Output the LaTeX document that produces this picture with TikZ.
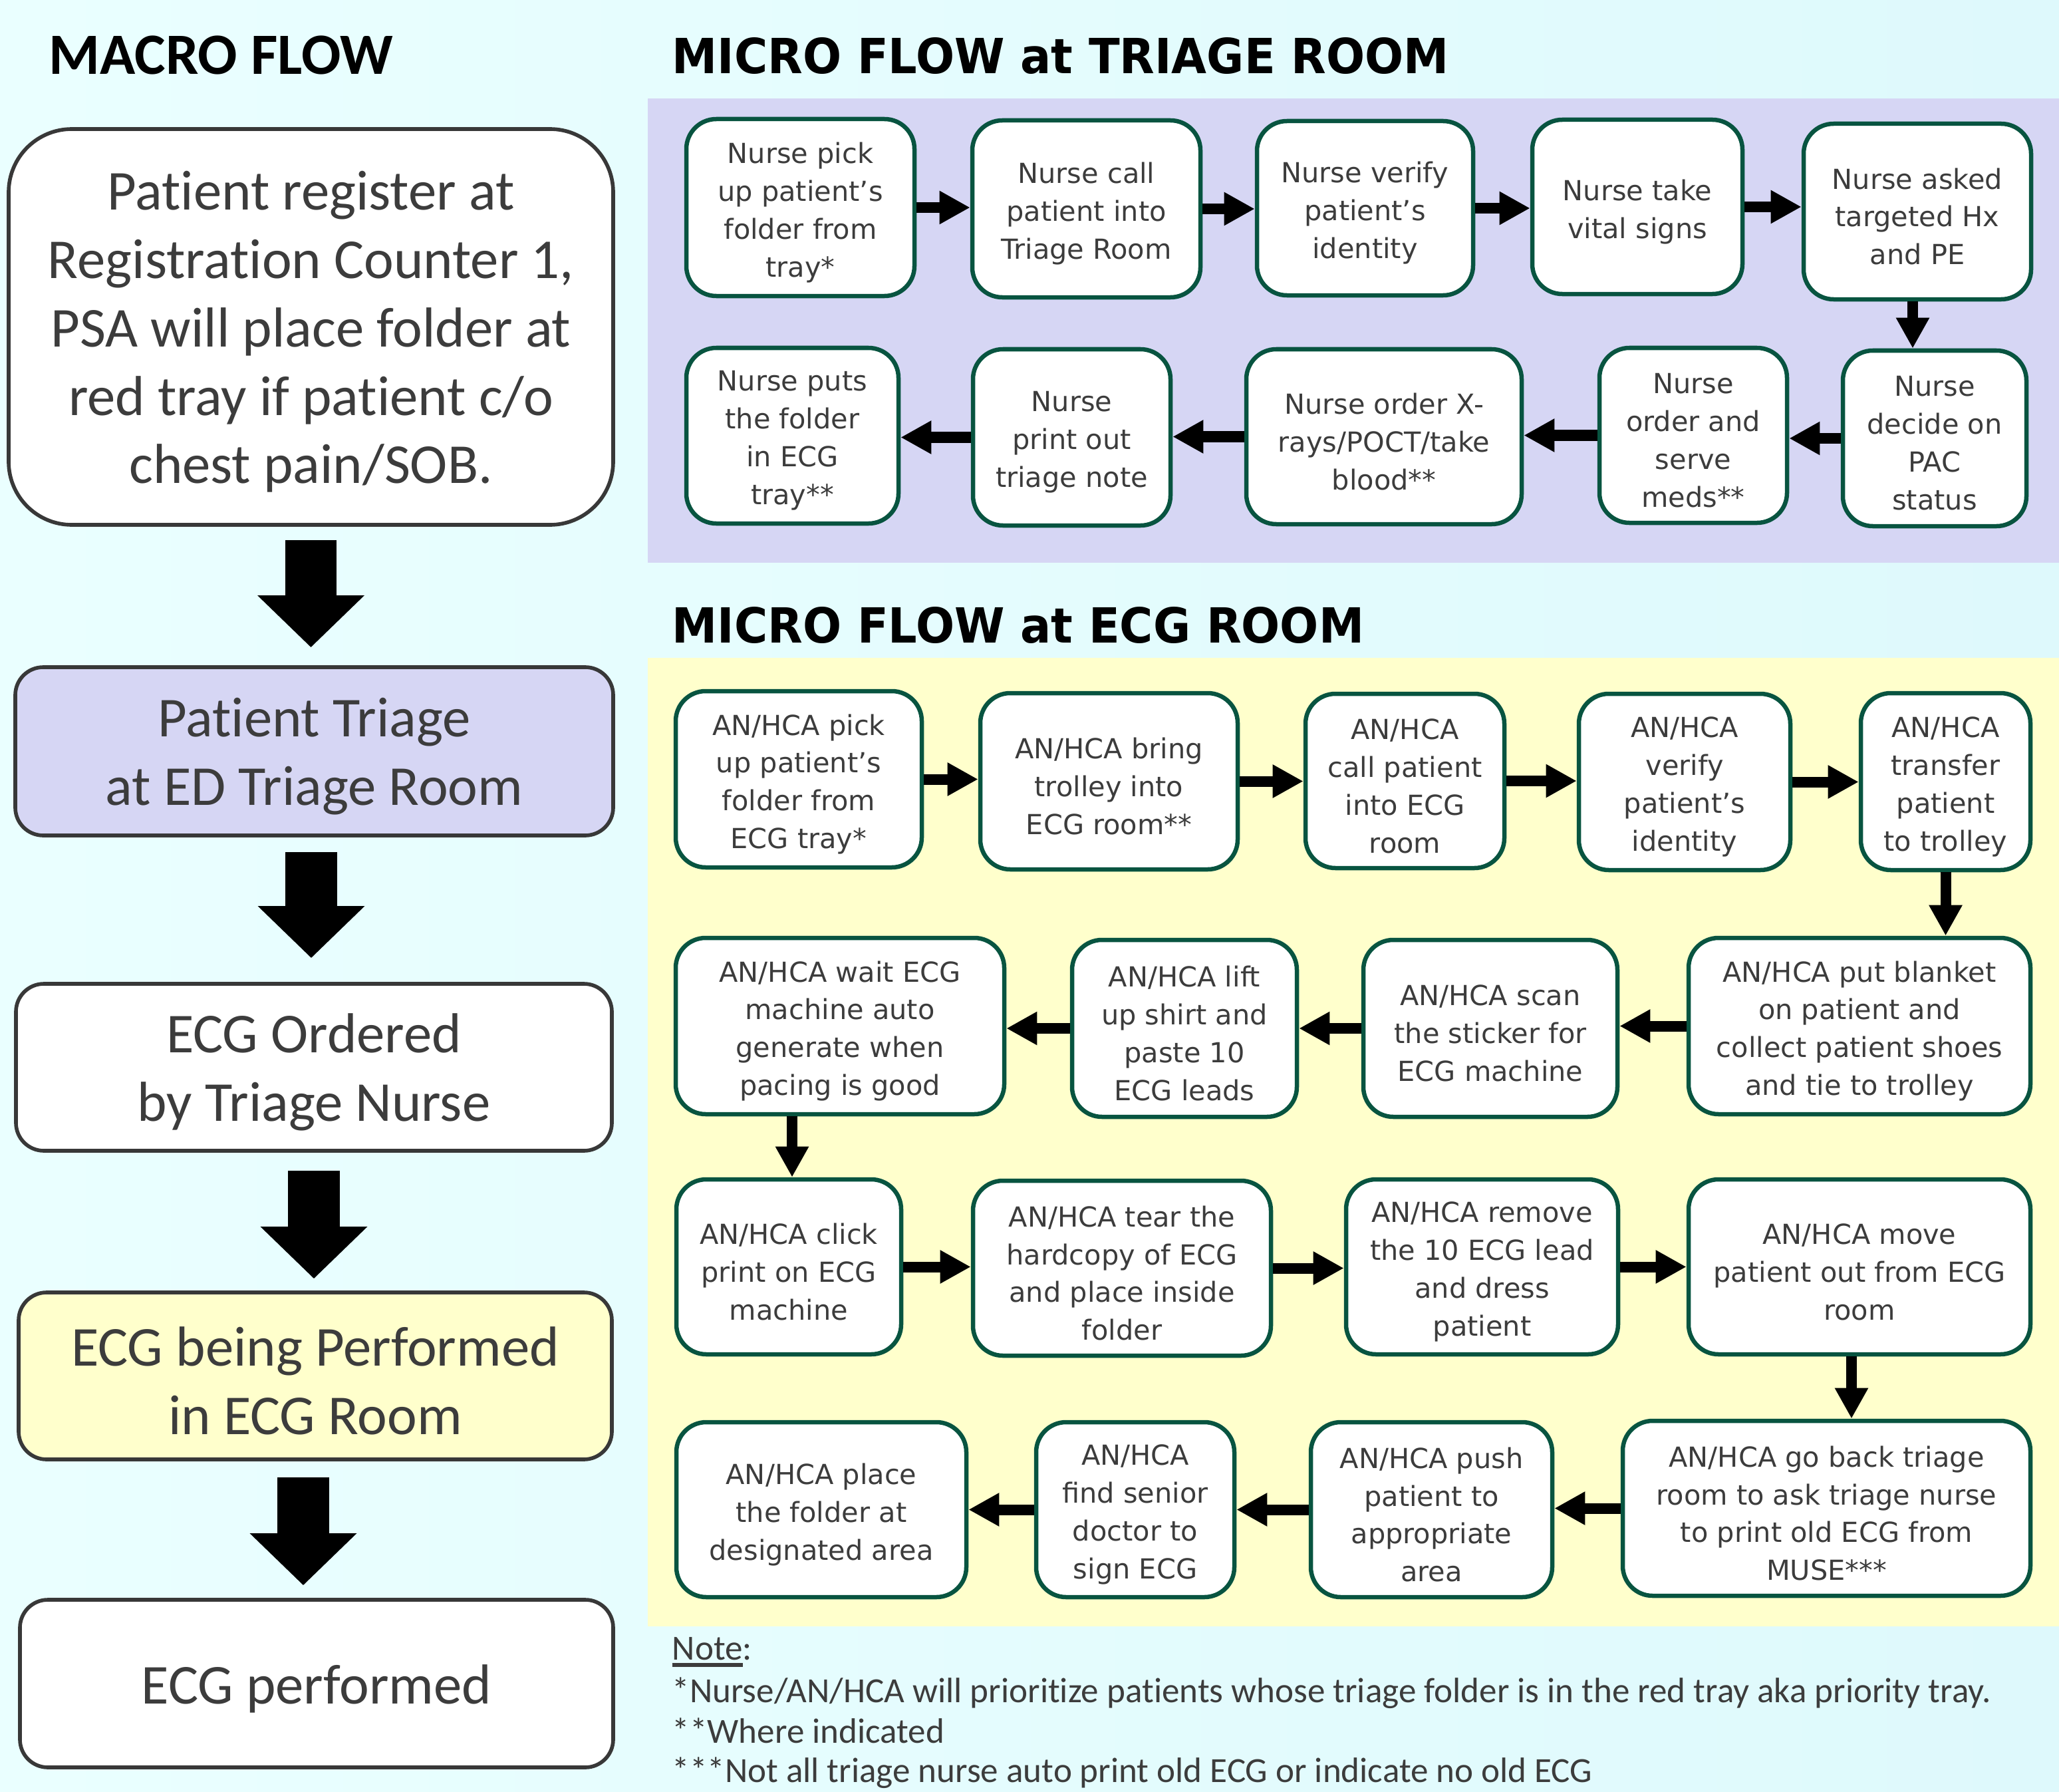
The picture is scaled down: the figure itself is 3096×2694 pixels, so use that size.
\documentclass[tikz,border=0pt]{standalone}
\usepackage{fontspec}
\setmainfont{Carlito}[Ligatures=NoCommon]
\newfontfamily\microfont{DejaVu Sans}
\usetikzlibrary{arrows.meta}
\definecolor{bgA}{RGB}{234,255,255}
\definecolor{bgB}{RGB}{222,249,252}
\definecolor{lav}{RGB}{214,214,244}
\definecolor{yel}{RGB}{255,255,204}
\definecolor{bgreen}{RGB}{8,84,64}
\definecolor{txt}{RGB}{60,60,60}
\definecolor{mgray}{RGB}{56,56,56}
\newcommand\placebox[7][micro]{%
 \pgfmathsetmacro\pbCX{(#3+#5)/2}%
 \pgfmathsetmacro\pbCY{(#4+#6)/2}%
 \pgfmathsetmacro\pbW{(#5-#3)*0.01}%
 \pgfmathsetmacro\pbH{(#6-#4)*0.01}%
 \node[#1, minimum width=\pbW cm, minimum height=\pbH cm] (#2) at (\pbCX,\pbCY) {};
 \node[#1, draw=none, fill=none, yshift=-0.075cm] (#2t) at (#2.center) {#7};}
\newcommand\myul[1]{\setbox0\hbox{#1}\rlap{\rule[-3pt]{\wd0}{1.6pt}}\box0}
\tikzset{
 micro/.style={draw=bgreen, line width=1.85pt, fill=white, rounded corners=0.45cm, align=center, text=txt, inner sep=0pt, font=\microfont\fontsize{11.8}{16.2}\selectfont},
 macro/.style={draw=mgray, line width=1.6pt, fill=white, rounded corners=0.42cm, align=center, text=txt, inner sep=0pt, font=\fontsize{24.1}{29.2}\selectfont},
 arr/.style={line width=0.16cm, -{Triangle[length=0.46cm,width=0.47cm]}},
 bigarr/.style={line width=0.77cm, -{Triangle[length=0.78cm,width=1.56cm]}},
 note/.style={inner sep=0pt, text=txt, font=\fontsize{15.1}{18}\selectfont, anchor=base west},
 title/.style={inner sep=0pt, text=black, anchor=base west}
}
\begin{document}
\begin{tikzpicture}[x=0.01cm, y=-0.01cm]
\useasboundingbox (0,0) rectangle (3096,2694);
\shade[left color=bgA, right color=bgB] (0,0) rectangle (3096,2694);
\fill[lav] (974,148) rectangle (3096,846);
\fill[yel] (974,989) rectangle (3096,2445);

% titles
\node[title, font=\bfseries\fontsize{25}{29}\selectfont] (tmacro) at (73,112) {MACRO FLOW};
\node[title, font=\microfont\bfseries\fontsize{20.7}{25}\selectfont] (ttri) at (1010,111) {\scalebox{0.94}[1]{MICRO FLOW at TRIAGE ROOM}};
\node[title, font=\microfont\bfseries\fontsize{20.7}{25}\selectfont] (tecg) at (1010,966) {\scalebox{0.94}[1]{MICRO FLOW at ECG ROOM}};

% macro flow
\placebox[macro, rounded corners=0.95cm]{M1}{13}{194}{922}{789}{Patient register at\\Registration Counter 1,\\PSA will place folder at\\red tray if patient c/o\\chest pain/SOB.}
\placebox[macro, fill=lav]{M2}{23}{1003}{922}{1256}{Patient Triage\\at ED Triage Room}
\placebox[macro]{M3}{24}{1479}{920}{1730}{ECG Ordered\\by Triage Nurse}
\placebox[macro, fill=yel]{M4}{28}{1943}{920}{2194}{ECG being Performed\\in ECG Room}
\placebox[macro]{M5}{30}{2405}{922}{2657}{ECG performed}

\draw[bigarr, shorten <=0.2cm, shorten >=0.27cm] (M1.south) -- (M1.south |- M2.north);
\draw[bigarr, shorten <=0.22cm, shorten >=0.36cm] ([xshift=-0.045cm]M2.south) -- ([xshift=-0.045cm]M2.south |- M3.north);
\draw[bigarr, shorten <=0.27cm, shorten >=0.18cm] (M3.south) -- (M3.south |- M4.north);
\draw[bigarr, shorten <=0.24cm, shorten >=0.19cm] ([xshift=-0.18cm]M4.south) -- ([xshift=-0.18cm]M4.south |- M5.north);

% triage micro flow
\placebox{T1}{1032}{179}{1375}{445}{Nurse pick\\up patient’s\\folder from\\tray*}
\placebox{T2}{1462}{181}{1805}{447}{Nurse call\\patient into\\Triage Room}
\placebox{T3}{1890}{182}{2215}{444}{Nurse verify\\patient’s\\identity}
\placebox{T4}{2304}{180}{2620}{442}{Nurse take\\vital signs}
\placebox{T5}{2712}{186}{3054}{450}{Nurse asked\\targeted Hx\\and PE}
\placebox{T6}{2771}{527}{3047}{791}{Nurse\\decide on\\PAC\\status}
\placebox{T7}{2405}{523}{2687}{786}{Nurse\\order and\\serve\\meds**}
\placebox{T8}{1874}{525}{2288}{788}{Nurse order X-\\rays/POCT/take\\blood**}
\placebox{T9}{1463}{525}{1760}{790}{Nurse\\print out\\triage note}
\placebox{T10}{1032}{523}{1351}{787}{Nurse puts\\the folder\\in ECG\\tray**}

\draw[arr] (T1.east) -- (T1.east -| T2.west);
\draw[arr] (T2.east) -- (T2.east -| T3.west);
\draw[arr] (T3.east) -- (T3.east -| T4.west);
\draw[arr] (T4.east) -- (T4.east -| T5.west);
\draw[arr] ([xshift=-0.07cm]T5.south) -- ([xshift=-0.07cm]T5.south |- T6.north);
\draw[arr] (T6.west) -- (T6.west -| T7.east);
\draw[arr] (T7.west) -- (T7.west -| T8.east);
\draw[arr] (T8.west) -- (T8.west -| T9.east);
\draw[arr] (T9.west) -- (T9.west -| T10.east);

% ECG micro flow
\placebox{E1}{1016}{1039}{1386}{1304}{AN/HCA pick\\up patient’s\\folder from\\ECG tray*}
\placebox{E2}{1474}{1042}{1861}{1307}{AN/HCA bring\\trolley into\\ECG room**}
\placebox{E3}{1963}{1043}{2262}{1305}{AN/HCA\\call patient\\into ECG\\room}
\placebox{E4}{2374}{1043}{2692}{1308}{AN/HCA\\verify\\patient’s\\identity}
\placebox{E5}{2798}{1042}{3053}{1308}{AN/HCA\\transfer\\patient\\to trolley}
\placebox{E6}{2539}{1410}{3053}{1675}{AN/HCA put blanket\\on patient and\\collect patient shoes\\and tie to trolley}
\placebox{E7}{2050}{1413}{2432}{1679}{AN/HCA scan\\the sticker for\\ECG machine}
\placebox{E8}{1612}{1413}{1950}{1679}{AN/HCA lift\\up shirt and\\paste 10\\ECG leads}
\placebox{E9}{1016}{1410}{1510}{1675}{AN/HCA wait ECG\\machine auto\\generate when\\pacing is good}
\placebox{E10}{1017}{1773}{1355}{2036}{AN/HCA click\\print on ECG\\machine}
\placebox{E11}{1463}{1775}{1911}{2038}{AN/HCA tear the\\hardcopy of ECG\\and place inside\\folder}
\placebox{E12}{2024}{1773}{2433}{2036}{AN/HCA remove\\the 10 ECG lead\\and dress\\patient}
\placebox{E13}{2539}{1773}{3053}{2036}{AN/HCA move\\patient out from ECG\\room}
\placebox{E14}{2440}{2136}{3053}{2399}{AN/HCA go back triage\\room to ask triage nurse\\to print old ECG from\\MUSE***}
\placebox{E15}{1971}{2138}{2334}{2401}{AN/HCA push\\patient to\\appropriate\\area}
\placebox{E16}{1558}{2138}{1856}{2401}{AN/HCA\\find senior\\doctor to\\sign ECG}
\placebox{E17}{1017}{2138}{1453}{2401}{AN/HCA place\\the folder at\\designated area}

\draw[arr] (E1.east) -- (E1.east -| E2.west);
\draw[arr] (E2.east) -- (E2.east -| E3.west);
\draw[arr] (E3.east) -- (E3.east -| E4.west);
\draw[arr] (E4.east) -- (E4.east -| E5.west);
\draw[arr] (E5.south) -- (E5.south |- E6.north);
\draw[arr] (E6.west) -- (E6.west -| E7.east);
\draw[arr] (E7.west) -- (E7.west -| E8.east);
\draw[arr] (E8.west) -- (E8.west -| E9.east);
\draw[arr] ([xshift=0.05cm]E10.north |- E9.south) -- ([xshift=0.05cm]E10.north);
\draw[arr] (E10.east) -- (E10.east -| E11.west);
\draw[arr] (E11.east) -- (E11.east -| E12.west);
\draw[arr] (E12.east) -- (E12.east -| E13.west);
\draw[arr] ([xshift=-0.12cm]E13.south) -- ([xshift=-0.12cm]E13.south |- E14.north);
\draw[arr] (E14.west) -- (E14.west -| E15.east);
\draw[arr] (E15.west) -- (E15.west -| E16.east);
\draw[arr] (E16.west) -- (E16.west -| E17.east);

% notes
\node[note] (n0) at (1010,2495) {\myul{Note}:};
\node[note] (n1) at (1010,2559) {*Nurse/AN/HCA will prioritize patients whose triage folder is in the red tray aka priority tray.};
\node[note] (n2) at (1010,2620) {**Where indicated};
\node[note] (n3) at (1010,2679) {***Not all triage nurse auto print old ECG or indicate no old ECG};
\end{tikzpicture}
\end{document}
